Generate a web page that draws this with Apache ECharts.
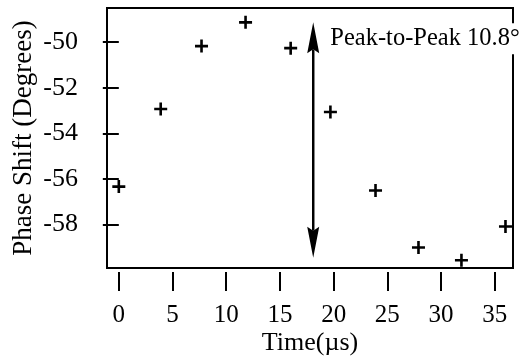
<!DOCTYPE html>
<html>
<head>
<meta charset="utf-8">
<script src="https://cdn.jsdelivr.net/npm/echarts@6/dist/echarts.min.js"></script>
<style>html,body{margin:0;padding:0;background:#fff}#c{width:526px;height:356px}</style>
</head>
<body>
<div id="c"></div>
<script>
// Data
const timeUs = [0.0, 3.9, 7.7, 11.8, 16.0, 19.7, 23.9, 27.9, 31.9, 36.0];
const phaseShift = [-56.33, -52.93, -50.17, -49.13, -50.26, -53.06, -56.5, -59.0, -59.56, -58.08];
const xTicks = [0, 5, 10, 15, 20, 25, 30, 35];
const yTicks = [-58, -56, -54, -52, -50];
const arrowX = 18.1;
const arrowTop = -49.13;
const arrowBottom = -59.45;
const annotationText = 'Peak-to-Peak 10.8°';
const annotationPos = [19.6, -49.85];

const FONT = 'Liberation Serif';
const chart = echarts.init(document.getElementById('c'), null, {renderer: 'canvas'});

const points = timeUs.map((t, i) => [t, phaseShift[i]]);

chart.setOption({
  animation: false,
  backgroundColor: '#fff',
  grid: {left: 107, right: 13, top: 8, bottom: 88, containLabel: false, outerBoundsMode: 'none',
         show: true, borderColor: '#000', borderWidth: 2, backgroundColor: 'transparent'},
  xAxis: {
    type: 'value', min: -1.1, max: 36.7, offset: 4,
    name: 'Time(µs)', nameLocation: 'middle', nameGap: 58, nameMoveOverlap: false,
    nameTextStyle: {fontFamily: FONT, fontSize: 26, color: '#000'},
    axisLine: {show: false},
    axisTick: {show: true, length: 19, lineStyle: {color: '#000', width: 2}, customValues: xTicks},
    axisLabel: {fontFamily: FONT, fontSize: 25, color: '#000', margin: 31, customValues: xTicks},
    splitLine: {show: false}
  },
  yAxis: {
    type: 'value', min: -59.9, max: -48.5, offset: 4,
    name: 'Phase Shift (Degrees)', nameLocation: 'middle', nameGap: 66, nameMoveOverlap: false,
    nameTextStyle: {fontFamily: FONT, fontSize: 27, color: '#000'},
    axisLine: {show: false},
    axisTick: {show: true, length: 16, lineStyle: {color: '#000', width: 2}, customValues: yTicks},
    axisLabel: {fontFamily: FONT, fontSize: 26, color: '#000', margin: 25, customValues: yTicks},
    splitLine: {show: false}
  },
  series: [
    {
      type: 'scatter',
      data: points,
      symbol: 'path://M4,0H6V4H10V6H6V10H4V6H0V4H4Z',
      symbolSize: 13,
      itemStyle: {color: '#000', opacity: 1},
      clip: false,
      z: 3
    },
    {
      type: 'custom',
      data: [[arrowX, arrowTop, arrowBottom]],
      renderItem: function (params, api) {
        const p1 = api.coord([api.value(0), api.value(1)]);
        const p2 = api.coord([api.value(0), api.value(2)]);
        const hl = 31, hw = 6;
        const x = p1[0];
        return {
          type: 'group',
          children: [
            {type: 'line', shape: {x1: x, y1: p1[1] + hl - 4, x2: x, y2: p2[1] - hl + 4}, style: {stroke: '#000', lineWidth: 2.5}},
            {type: 'polygon', shape: {points: [[x, p1[1]], [x + hw, p1[1] + hl], [x, p1[1] + hl - 4], [x - hw, p1[1] + hl]]}, style: {fill: '#000'}},
            {type: 'polygon', shape: {points: [[x, p2[1]], [x + hw, p2[1] - hl], [x, p2[1] - hl + 4], [x - hw, p2[1] - hl]]}, style: {fill: '#000'}}
          ]
        };
      },
      clip: false,
      z: 4
    },
    {
      type: 'scatter',
      data: [{value: annotationPos, name: annotationText}],
      symbolSize: 0,
      clip: false,
      silent: true,
      itemStyle: {opacity: 1},
      label: {
        show: true, position: 'right', distance: 0,
        formatter: '{b}',
        fontFamily: FONT, fontSize: 24.5, color: '#000', opacity: 1,
        backgroundColor: '#fff', padding: [3, 1, 3, 1]
      },
      z: 5
    }
  ]
});
</script>
</body>
</html>
